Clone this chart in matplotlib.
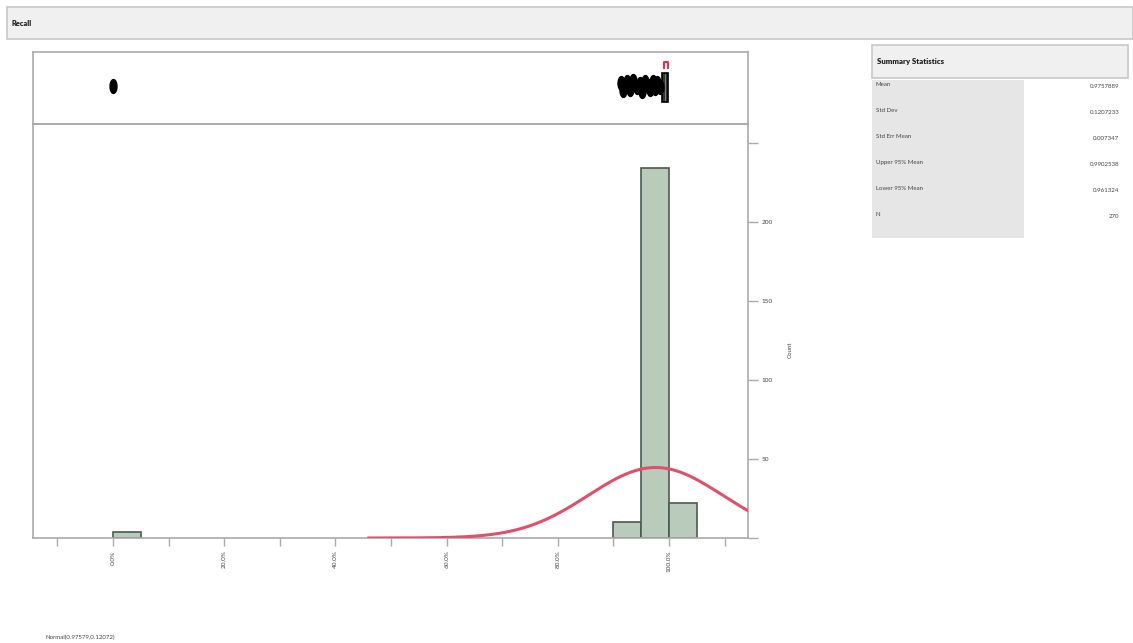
import numpy as np
import matplotlib
matplotlib.use('Agg')
import matplotlib.pyplot as plt
from matplotlib.patches import Rectangle
from matplotlib.ticker import FixedLocator, FuncFormatter

plt.rcParams['font.family'] = ['Lato', 'DejaVu Sans']

# Histograma de Recall (bins de 0.05)
bin_edges = [0.0, 0.90, 0.95, 1.00]
bin_counts = [4, 10, 234, 22]
bin_width = 0.05

# Ajuste normal
mu, sigma = 0.97579, 0.12072
n_total = 270

# Outliers (con un poco de jitter vertical) y caja del box plot superior
outliers = [0.0, 0.913, 0.918, 0.924, 0.93, 0.936, 0.942, 0.947, 0.952, 0.957,
            0.962, 0.966, 0.971, 0.975, 0.979, 0.983]
outlier_jitter = [0.0, 0.04, -0.06, 0.05, -0.05, 0.07, -0.02, 0.03, -0.07,
                  0.06, 0.0, -0.05, 0.06, -0.03, 0.04, -0.01]
box_q1, box_med, box_q3 = 0.987, 0.993, 0.999
short_half = (0.991, 0.998)

stat_names = ['Mean', 'Std Dev', 'Std Err Mean', 'Upper 95% Mean', 'Lower 95% Mean', 'N']
stat_values = ['0.9757889', '0.1207233', '0.007347', '0.9902538', '0.961324', '270']

x_ticks = [0.0, 0.2, 0.4, 0.6, 0.8, 1.0]
y_ticks = [0, 50, 100, 150, 200, 250]
y_labels = {50: '50', 100: '100', 150: '150', 200: '200'}

W, H = 1133, 643
fig = plt.figure(figsize=(W / 100, H / 100), dpi=100)
fig.patch.set_facecolor('white')

# capa de fondo en coordenadas de pixel
bg = fig.add_axes([0, 0, 1, 1], zorder=0)
bg.set_xlim(0, W)
bg.set_ylim(H, 0)
bg.axis('off')

bg.add_patch(Rectangle((7, 7), 1126, 32, facecolor='#f0f0f0', edgecolor='#c8c8c8', lw=1.2))
bg.text(11, 23, 'Recall', fontsize=5.3, fontweight='heavy', va='center', color='#222222')

bg.add_patch(Rectangle((872, 45), 256, 33, facecolor='#f0f0f0', edgecolor='#c8c8c8', lw=1.2))
bg.text(877, 61.5, 'Summary Statistics', fontsize=5.6, fontweight='heavy', va='center', color='#222222')
bg.add_patch(Rectangle((872, 80), 152, 158, facecolor='#e6e6e6', edgecolor='none'))
for i, (name, val) in enumerate(zip(stat_names, stat_values)):
    y = 84 + i * 26.2
    bg.text(876, y, name, fontsize=4.4, va='center', color='#444444')
    bg.text(1119, y + 2, val, fontsize=4.4, va='center', ha='right', color='#444444')

bg.text(45, 637, 'Normal(0.97579,0.12072)', fontsize=4.4, va='center', color='#444444')
bg.text(790, 350, 'Count', fontsize=4.4, va='center', ha='center', rotation=90, color='#444444')

x_lo, x_hi = -0.144, 1.142
gray = '#aaaaaa'

# panel principal: histograma
ax = fig.add_axes([33 / W, (H - 538) / H, 715 / W, 414 / H], zorder=2)
ax.patch.set_alpha(0)
ax.bar(bin_edges, bin_counts, width=bin_width, align='edge', color='#b9cbbb',
       edgecolor='#4d5a52', linewidth=1.2, zorder=2)

xs = np.linspace(0.46, x_hi, 400)
pdf = n_total * bin_width * np.exp(-0.5 * ((xs - mu) / sigma) ** 2) / (sigma * np.sqrt(2 * np.pi))
ax.plot(xs, pdf, color='#e0506a', lw=2.2, zorder=3)

ax.set_xlim(x_lo, x_hi)
ax.set_ylim(0, 262)
for side in ['left', 'top', 'bottom', 'right']:
    ax.spines[side].set_color(gray)
    ax.spines[side].set_linewidth(1.2)
ax.xaxis.set_major_locator(FixedLocator(x_ticks))
ax.xaxis.set_minor_locator(FixedLocator([-0.1, 0.1, 0.3, 0.5, 0.7, 0.9, 1.1]))
ax.xaxis.set_major_formatter(FuncFormatter(lambda v, p: f'{v * 100:.1f}%'))
ax.tick_params(axis='x', which='both', length=6, width=1, color=gray,
               labelsize=4.6, labelcolor='#444444', labelrotation=90, pad=3)
ax.yaxis.tick_right()
ax.yaxis.set_major_locator(FixedLocator(y_ticks))
ax.yaxis.set_major_formatter(FuncFormatter(lambda v, p: y_labels.get(int(round(v)), '')))
ax.tick_params(axis='y', length=7, width=1, color=gray, labelsize=4.6,
               labelcolor='#444444', pad=3)

# panel superior: outliers y box plot
top = fig.add_axes([33 / W, (H - 124) / H, 715 / W, 72 / H], zorder=2)
top.patch.set_alpha(0)
top.set_xlim(x_lo, x_hi)
top.set_ylim(0, 1)
top.set_xticks([])
top.set_yticks([])
for side in ['left', 'top', 'bottom', 'right']:
    top.spines[side].set_color(gray)
    top.spines[side].set_linewidth(1.2)

t = np.linspace(0, 2 * np.pi, 40)
oval = np.column_stack([0.5 * np.cos(t), np.sin(t)])
top.plot(outliers, 0.53 + np.array(outlier_jitter), linestyle='none', marker=oval,
         markersize=10, color='black')
top.add_patch(Rectangle((box_q1, 0.31), box_q3 - box_q1, 0.40,
                        facecolor='#333333', edgecolor='black', lw=1.2))
top.plot([box_med, box_med], [0.33, 0.69], color='#888888', lw=0.6)
top.plot([short_half[0], short_half[0], short_half[1], short_half[1]],
         [0.78, 0.86, 0.86, 0.78], color='#e8304a', lw=1.5)

fig.savefig('out.png', dpi=100)
